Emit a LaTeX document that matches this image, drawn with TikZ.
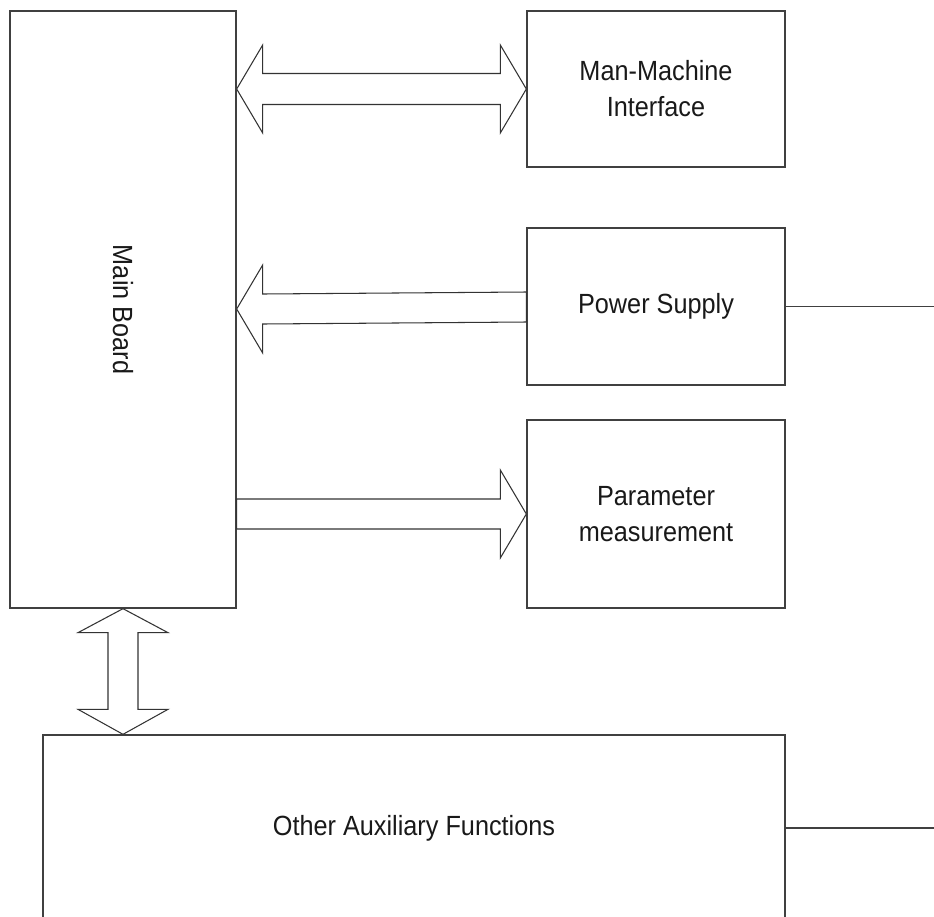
\documentclass[tikz,border=0pt]{standalone}
\usepackage{fontspec}
\setmainfont[FakeStretch=0.91]{Liberation Sans}
\usetikzlibrary{calc}
\tikzset{
  blockbox/.style={rectangle,draw=black!75,line width=0.8pt,fill=white,inner sep=0pt,
                   align=center,text=black!90,font=\fontsize{15.8}{20.5}\selectfont},
  fatarrow/.style={draw=black!80,line width=0.6pt,fill=white,line join=miter},
  wire/.style={draw=black!75,line width=0.8pt},
}
\begin{document}
\begin{tikzpicture}[x=0.02cm,y=-0.02cm]
  % page frame (reference pixels, y downwards)
  \useasboundingbox (0,0) rectangle (934,917);
  \clip (0,0) rectangle (934,917);
  \coordinate (rim) at (934,0);
  % ── blocks ──
  \node[blockbox,minimum width=4.52cm,minimum height=11.94cm] (main) at (123,309.5)
    {\rotatebox{-90}{Main Board}};
  \node[blockbox,minimum width=5.16cm,minimum height=3.12cm] (mmi) at (656,89)
    {Man-Machine\\Interface};
  \node[blockbox,minimum width=5.16cm,minimum height=3.14cm] (pwr) at (656,306.5)
    {Power Supply};
  \node[blockbox,minimum width=5.16cm,minimum height=3.76cm] (par) at (656,514)
    {Parameter\\measurement};
  \node[blockbox,minimum width=14.84cm,minimum height=3.72cm] (aux) at (414,828)
    {Other Auxiliary Functions};
  % ── hollow arrows ──
  % main board <-> man-machine interface
  \draw[fatarrow] (main.east |- mmi.west) -- ++(26,-44) -- ++(0,28.5)
    -- ($(mmi.west)+(-26,-15.5)$) -- ++(0,-28.5) -- (mmi.west) -- ++(-26,44)
    -- ++(0,-28.5) -- ($(main.east |- mmi.west)+(26,15.5)$) -- ++(0,28.5) -- cycle;
  % power supply -> main board
  \coordinate (pwrtip) at ($(main.east |- pwr.west)+(0,2.5)$);
  \draw[fatarrow] (pwrtip) -- ++(26,-44) -- ++(0,29) -- ($(pwr.west)+(0,-14.5)$)
    -- ($(pwr.west)+(0,15.5)$) -- ($(pwrtip)+(26,15)$) -- ++(0,29) -- cycle;
  % main board -> parameter measurement
  \draw[fatarrow] ($(main.east |- par.west)+(0,-15)$) -- ($(par.west)+(-26,-15)$)
    -- ++(0,-29) -- (par.west) -- ++(-26,44) -- ++(0,-29)
    -- ($(main.east |- par.west)+(0,15)$) -- cycle;
  % main board <-> other auxiliary functions
  \draw[fatarrow] (main.south) -- ++(45,24) -- ++(-30,0)
    -- ($(aux.north -| main.south)+(15,-25)$) -- ++(30,0) -- (aux.north -| main.south)
    -- ++(-45,-25) -- ++(30,0) -- ($(main.south)+(-15,24)$) -- ++(-30,0) -- cycle;
  % ── outgoing lines to the right edge ──
  \draw[wire] (pwr.east) -- (pwr.east -| rim);
  \draw[wire] (aux.east) -- (aux.east -| rim);
\end{tikzpicture}
\end{document}
